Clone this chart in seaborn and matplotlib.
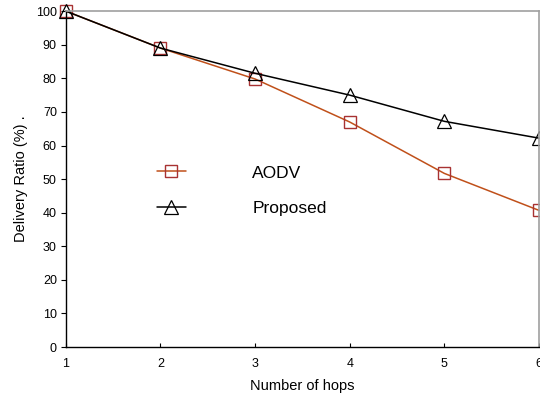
import matplotlib
matplotlib.use('Agg')
import matplotlib.pyplot as plt
import seaborn as sns

# Data
hops = [1, 2, 3, 4, 5, 6]
aodv = [100, 89, 79.8, 67, 51.7, 40.7]
proposed = [100, 89, 81.5, 75, 67.2, 62.2]

sns.set_style('ticks')
plt.rcParams['font.family'] = ['Liberation Sans', 'DejaVu Sans']
plt.rcParams['text.color'] = 'black'
plt.rcParams['axes.labelcolor'] = 'black'
plt.rcParams['xtick.color'] = 'black'
plt.rcParams['ytick.color'] = 'black'

fig = plt.figure(figsize=(5.4, 3.98), dpi=100)
ax = fig.add_axes([0.122, 0.128, 0.876, 0.844])

sns.lineplot(x=hops, y=aodv, ax=ax, color='#C0501A', linewidth=1.1,
             marker='s', markersize=8.5, mfc='none', mec='#A83232', mew=1.0,
             label='AODV', clip_on=False)
sns.lineplot(x=hops, y=proposed, ax=ax, color='black', linewidth=1.1,
             marker='^', markersize=9.5, mfc='none', mec='black', mew=0.9,
             label='Proposed', clip_on=False)

ax.set_xlim(1, 6)
ax.set_ylim(0, 100)
ax.set_xticks(hops)
ax.set_yticks(range(0, 101, 10))
ax.tick_params(axis='x', direction='in', length=3, labelsize=9, pad=8)
ax.tick_params(axis='y', direction='out', length=3.5, labelsize=9, pad=3)
ax.set_xlabel('Number of hops', fontsize=10.5, labelpad=6)
ax.set_ylabel('Delivery Ratio (%) .', fontsize=10.5, labelpad=6)

for side in ['top', 'right']:
    ax.spines[side].set_color('#A0A0A0')
    ax.spines[side].set_linewidth(1.2)
for side in ['left', 'bottom']:
    ax.spines[side].set_color('black')
    ax.spines[side].set_linewidth(1.0)

ax.legend(loc='center left', bbox_to_anchor=(0.192, 0.466), frameon=False,
          fontsize=12.5, handlelength=1.7, handletextpad=3.8,
          labelspacing=1.15, borderpad=0, borderaxespad=0)

fig.savefig('out.png', dpi=100)
